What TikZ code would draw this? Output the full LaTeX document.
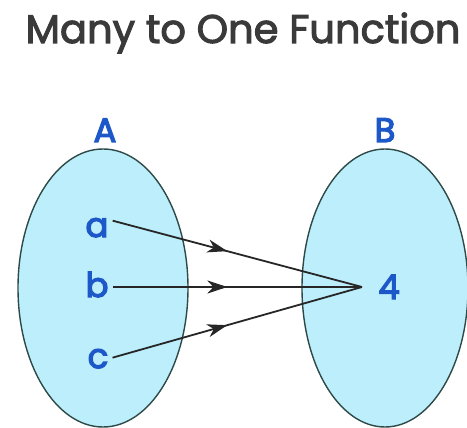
\documentclass[tikz,border=0pt]{standalone}
\usepackage{fontspec}
\setmainfont{Poppins}
\newfontfamily\titlefont{Poppins}[FakeBold=2.6]
\newfontfamily\lblfont{Poppins}[FakeBold=3.6]
\usetikzlibrary{arrows.meta,decorations.markings}
\definecolor{setfill}{HTML}{BCEEFC}
\definecolor{setedge}{HTML}{2E4A48}
\definecolor{lblblue}{HTML}{1D58C8}
\definecolor{titlegray}{HTML}{3A3A3A}
\definecolor{arrowdark}{HTML}{262626}
\tikzset{
  setoval/.style={draw=setedge, line width=1.4pt, fill=setfill},
  elem/.style={text=lblblue, font=\lblfont\fontsize{34}{36}\selectfont, inner sep=1pt},
  setname/.style={text=lblblue, font=\lblfont\fontsize{34}{36}\selectfont, inner sep=0pt},
  maparrow/.style={draw=arrowdark, line width=1.8pt,
    postaction={decorate},
    decoration={markings, mark=at position 0.46 with {\arrow{Stealth[length=20pt,width=13pt,inset=6pt]}}}}
}
\begin{document}
\begin{tikzpicture}[x=1pt,y=-1pt]
\useasboundingbox (0,0) rectangle (467,428);
\node[text=titlegray, font=\titlefont\fontsize{40}{44}\selectfont, anchor=base] (title) at (243,43) {Many to One Function};
\node[setname, anchor=base] (A) at (105,142) {A};
\node[setname, anchor=base] (B) at (385,142) {B};
\draw[setoval] (103,288) ellipse [x radius=85, y radius=139];
\draw[setoval] (385,288) ellipse [x radius=83, y radius=139];
\node[elem, anchor=base] (a) at (97,237) {a};
\node[elem, anchor=base] (b) at (97,297) {b};
\node[elem, anchor=base] (c) at (98,368) {c};
\node[elem, anchor=base] (four) at (389,299) {4};
\coordinate (p) at (362,287);
\draw[maparrow] ([xshift=3pt,yshift=7pt]a.east) -- (p);
\draw[maparrow] ([xshift=3pt]b.east |- p) -- (p);
\draw[maparrow] ([xshift=3pt,yshift=1pt]c.east) -- (p);
\end{tikzpicture}
\end{document}
